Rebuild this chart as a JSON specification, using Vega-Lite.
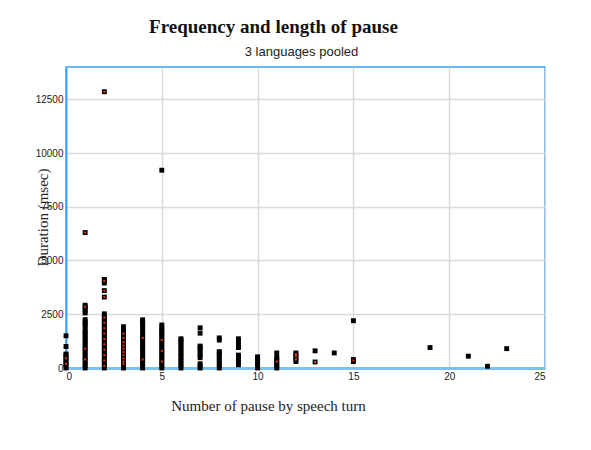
{
  "$schema": "https://vega.github.io/schema/vega-lite/v6.json",
  "width": 479,
  "height": 301,
  "autosize": "none",
  "padding": {"left": 66, "top": 67, "right": 46, "bottom": 82},
  "background": "white",
  "config": {
    "view": {"stroke": "#3a9ff0", "strokeWidth": 1.5},
    "axis": {"labelFont": "Liberation Sans", "labelFontSize": 10, "labelColor": "#222", "titleColor": "#222", "gridColor": "#d9d9d9", "gridWidth": 1.5}
  },
  "title": {"text": "Frequency and length of pause", "font": "Liberation Serif", "fontSize": 19, "fontWeight": "bold", "color": "#111", "anchor": "middle", "frame": "group", "dx": -32, "offset": 8},
  "datasets": {
    "black": [
      {"n":0,"ms":0},{"n":0,"ms":100},{"n":0,"ms":200},{"n":0,"ms":300},{"n":0,"ms":400},{"n":0,"ms":500},{"n":0,"ms":600},{"n":0,"ms":650},{"n":0,"ms":1000},{"n":0,"ms":1500},
      {"n":1,"ms":0},{"n":1,"ms":120},{"n":1,"ms":240},{"n":1,"ms":360},{"n":1,"ms":480},{"n":1,"ms":600},{"n":1,"ms":720},{"n":1,"ms":840},{"n":1,"ms":960},{"n":1,"ms":1080},{"n":1,"ms":1200},{"n":1,"ms":1320},{"n":1,"ms":1440},{"n":1,"ms":1560},{"n":1,"ms":1680},{"n":1,"ms":1780},{"n":1,"ms":1950},{"n":1,"ms":2050},{"n":1,"ms":2150},{"n":1,"ms":2250},{"n":1,"ms":2560},{"n":1,"ms":2650},{"n":1,"ms":2750},{"n":1,"ms":2850},{"n":1,"ms":2920},{"n":1,"ms":6300},
      {"n":2,"ms":0},{"n":2,"ms":120},{"n":2,"ms":240},{"n":2,"ms":360},{"n":2,"ms":480},{"n":2,"ms":600},{"n":2,"ms":720},{"n":2,"ms":840},{"n":2,"ms":960},{"n":2,"ms":1080},{"n":2,"ms":1200},{"n":2,"ms":1320},{"n":2,"ms":1440},{"n":2,"ms":1560},{"n":2,"ms":1680},{"n":2,"ms":1800},{"n":2,"ms":1920},{"n":2,"ms":2040},{"n":2,"ms":2160},{"n":2,"ms":2280},{"n":2,"ms":2400},{"n":2,"ms":2520},{"n":2,"ms":3300},{"n":2,"ms":3600},{"n":2,"ms":3950},{"n":2,"ms":4050},{"n":2,"ms":4120},{"n":2,"ms":12850},
      {"n":3,"ms":0},{"n":3,"ms":120},{"n":3,"ms":240},{"n":3,"ms":360},{"n":3,"ms":480},{"n":3,"ms":600},{"n":3,"ms":720},{"n":3,"ms":840},{"n":3,"ms":960},{"n":3,"ms":1080},{"n":3,"ms":1200},{"n":3,"ms":1320},{"n":3,"ms":1440},{"n":3,"ms":1560},{"n":3,"ms":1680},{"n":3,"ms":1750},{"n":3,"ms":1920},
      {"n":4,"ms":0},{"n":4,"ms":120},{"n":4,"ms":240},{"n":4,"ms":360},{"n":4,"ms":480},{"n":4,"ms":600},{"n":4,"ms":720},{"n":4,"ms":840},{"n":4,"ms":960},{"n":4,"ms":1080},{"n":4,"ms":1200},{"n":4,"ms":1320},{"n":4,"ms":1440},{"n":4,"ms":1560},{"n":4,"ms":1680},{"n":4,"ms":1780},{"n":4,"ms":1950},{"n":4,"ms":2050},{"n":4,"ms":2150},{"n":4,"ms":2240},
      {"n":5,"ms":0},{"n":5,"ms":120},{"n":5,"ms":240},{"n":5,"ms":360},{"n":5,"ms":480},{"n":5,"ms":600},{"n":5,"ms":720},{"n":5,"ms":840},{"n":5,"ms":960},{"n":5,"ms":1080},{"n":5,"ms":1200},{"n":5,"ms":1320},{"n":5,"ms":1440},{"n":5,"ms":1560},{"n":5,"ms":1680},{"n":5,"ms":1750},{"n":5,"ms":1900},{"n":5,"ms":2000},{"n":5,"ms":9200},
      {"n":6,"ms":0},{"n":6,"ms":120},{"n":6,"ms":240},{"n":6,"ms":360},{"n":6,"ms":480},{"n":6,"ms":600},{"n":6,"ms":720},{"n":6,"ms":840},{"n":6,"ms":960},{"n":6,"ms":1080},{"n":6,"ms":1200},{"n":6,"ms":1300},{"n":6,"ms":1360},
      {"n":7,"ms":0},{"n":7,"ms":100},{"n":7,"ms":200},{"n":7,"ms":480},{"n":7,"ms":600},{"n":7,"ms":720},{"n":7,"ms":840},{"n":7,"ms":960},{"n":7,"ms":1020},{"n":7,"ms":1620},{"n":7,"ms":1870},
      {"n":8,"ms":0},{"n":8,"ms":120},{"n":8,"ms":240},{"n":8,"ms":360},{"n":8,"ms":480},{"n":8,"ms":600},{"n":8,"ms":720},{"n":8,"ms":760},{"n":8,"ms":1300},{"n":8,"ms":1400},
      {"n":9,"ms":150},{"n":9,"ms":270},{"n":9,"ms":390},{"n":9,"ms":520},{"n":9,"ms":600},{"n":9,"ms":950},{"n":9,"ms":1080},{"n":9,"ms":1250},{"n":9,"ms":1360},
      {"n":10,"ms":0},{"n":10,"ms":120},{"n":10,"ms":240},{"n":10,"ms":360},{"n":10,"ms":480},{"n":10,"ms":520},
      {"n":11,"ms":0},{"n":11,"ms":100},{"n":11,"ms":200},{"n":11,"ms":300},{"n":11,"ms":400},{"n":11,"ms":500},{"n":11,"ms":700},
      {"n":12,"ms":300},{"n":12,"ms":400},{"n":12,"ms":500},{"n":12,"ms":600},{"n":12,"ms":700},
      {"n":13,"ms":280},{"n":13,"ms":800},
      {"n":14,"ms":700},
      {"n":15,"ms":300},{"n":15,"ms":400},{"n":15,"ms":2200},
      {"n":19,"ms":950},{"n":21,"ms":550},{"n":22,"ms":80},{"n":23,"ms":900}
    ],
    "red": [
      {"n":0,"ms":200},{"n":0,"ms":450},
      {"n":1,"ms":400},{"n":1,"ms":900},{"n":1,"ms":2850},{"n":1,"ms":6300},
      {"n":2,"ms":100},{"n":2,"ms":350},{"n":2,"ms":600},{"n":2,"ms":850},{"n":2,"ms":1100},{"n":2,"ms":1350},{"n":2,"ms":1600},{"n":2,"ms":1850},{"n":2,"ms":2100},{"n":2,"ms":2350},{"n":2,"ms":3300},{"n":2,"ms":3600},{"n":2,"ms":4050},{"n":2,"ms":12850},
      {"n":3,"ms":200},{"n":3,"ms":300},{"n":3,"ms":450},{"n":3,"ms":600},{"n":3,"ms":750},{"n":3,"ms":900},{"n":3,"ms":1050},{"n":3,"ms":1200},{"n":3,"ms":1400},{"n":3,"ms":1600},
      {"n":4,"ms":400},{"n":4,"ms":1400},
      {"n":5,"ms":300},{"n":5,"ms":800},{"n":5,"ms":1300},
      {"n":11,"ms":300},
      {"n":12,"ms":400},{"n":12,"ms":550},{"n":12,"ms":650},
      {"n":13,"ms":280},
      {"n":15,"ms":350}
    ]
  },
  "layer": [
    {
      "data": {"name": "black"},
      "mark": {"type": "point", "shape": "square", "filled": true, "size": 24, "color": "#000", "opacity": 1},
      "encoding": {
        "x": {"field": "n", "type": "quantitative", "scale": {"domain": [0, 25], "nice": false},
          "axis": {"orient": "bottom", "values": [0, 5, 10, 15, 20, 25], "grid": true, "ticks": false, "labelPadding": 3, "domainColor": "#7cc0f2", "domainWidth": 3,
            "title": "Number of pause by speech turn", "titleFont": "Liberation Serif", "titleFontSize": 15, "titleFontWeight": "normal", "titleX": 202, "titleY": 30}},
        "y": {"field": "ms", "type": "quantitative", "scale": {"domain": [0, 14000], "nice": false},
          "axis": {"values": [0, 2500, 5000, 7500, 10000, 12500], "format": "d", "grid": true, "ticks": false, "labelPadding": 3, "domainColor": "#42a5f5", "domainWidth": 2,
            "title": "Duration (msec)", "titleFont": "Liberation Serif", "titleFontSize": 15, "titleFontWeight": "normal", "titleX": -16, "titleY": 150}}
      }
    },
    {
      "data": {"name": "red"},
      "mark": {"type": "point", "shape": "square", "filled": true, "size": 4, "color": "#e8301c", "opacity": 1},
      "encoding": {
        "x": {"field": "n", "type": "quantitative",
          "axis": {"orient": "top", "labels": false, "ticks": false, "domain": false, "grid": false,
            "title": "3 languages pooled", "titleFont": "Liberation Sans", "titleFontSize": 13, "titleFontWeight": "normal", "titlePadding": 9, "titleX": 235}},
        "y": {"field": "ms", "type": "quantitative"}
      }
    }
  ],
  "resolve": {"axis": {"x": "independent"}}
}
